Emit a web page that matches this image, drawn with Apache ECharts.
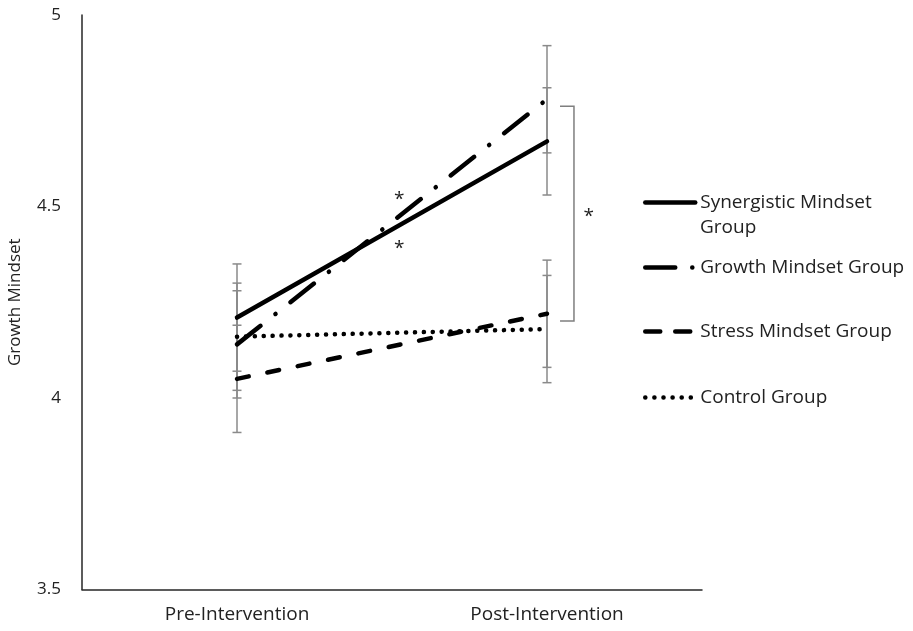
<!DOCTYPE html>
<html>
<head>
<meta charset="utf-8">
<script src="https://cdn.jsdelivr.net/npm/echarts@6/dist/echarts.min.js"></script>
<style>html,body{margin:0;padding:0;background:#fff;}#c{width:913px;height:631px;}</style>
</head>
<body>
<div id="c"></div>
<script>
// ---- data ----
const categories = ['Pre-Intervention', 'Post-Intervention'];
const seriesNames = ['Synergistic Mindset Group', 'Growth Mindset Group', 'Stress Mindset Group', 'Control Group'];
const synergistic = [4.21, 4.67];
const growth = [4.14, 4.78];
const stress = [4.05, 4.22];
const control = [4.16, 4.18];
const errSynergistic = [0.14, 0.14];
const errGrowth = [0.14, 0.14];
const errStress = [0.14, 0.14];
const errControl = [0.14, 0.14];
const yMin = 3.5, yMax = 5, yStep = 0.5;
const yAxisTitle = 'Growth Mindset';
// annotations (in data units; x on a helper value axis where categories sit at 0 and 1)
const bracketX = [1.042, 1.087];
const bracketY = [4.201, 4.762];
const starPoints = [[0.523, 4.517], [0.523, 4.389], [1.135, 4.473]];

// ---- build ----
const values = [synergistic, growth, stress, control];
const errs = [errSynergistic, errGrowth, errStress, errControl];
const errData = [];
values.forEach((vals, s) => vals.forEach((v, i) => errData.push([i, v - errs[s][i], v + errs[s][i]])));

const FONT = 'Open Sans';
const dashTypes = ['solid', [30, 19, 0.1, 19], [12, 19], [0.1, 8.8]];
const lineStyles = dashTypes.map(t => ({ color: '#000', width: 4.5, type: t, cap: 'round' }));
const legendTops = [193, 258, 322, 388];
const legendDash = ['solid', [30, 17, 0.1, 17], [15, 15], [0.1, 9]];

const chart = echarts.init(document.getElementById('c'), null, { renderer: 'canvas' });
const option = {
  animation: false,
  backgroundColor: '#fff',
  grid: { left: 82, right: 211, top: 15, bottom: 41.5, containLabel: false, outerBoundsMode: 'none' },
  xAxis: [{
    type: 'category', data: categories, boundaryGap: true,
    axisLine: { lineStyle: { color: '#262626', width: 1.5 } },
    axisTick: { show: false },
    axisLabel: { fontFamily: FONT, fontSize: 19, color: '#222', margin: 16 }
  }, {
    type: 'value', min: -0.5, max: 1.5, show: false
  }],
  yAxis: {
    type: 'value', min: yMin, max: yMax, interval: yStep,
    name: yAxisTitle, nameLocation: 'middle', nameGap: 58,
    nameTextStyle: { fontFamily: FONT, fontSize: 17, color: '#222' },
    axisLine: { show: true, onZero: false, lineStyle: { color: '#262626', width: 1.5 } },
    axisTick: { show: false },
    splitLine: { show: false },
    axisLabel: { fontFamily: FONT, fontSize: 17, color: '#222', margin: 21 }
  },
  legend: seriesNames.map((n, i) => ({
    data: [n], left: 643, top: legendTops[i], padding: 0, orient: 'vertical',
    itemWidth: 50, itemHeight: 14, selectedMode: false,
    itemStyle: { opacity: 0, borderWidth: 0 },
    lineStyle: { color: '#000', width: 4.5, type: legendDash[i], cap: 'round' },
    textStyle: { fontFamily: FONT, fontSize: 19, color: '#222' },
    formatter: i === 0 ? 'Synergistic Mindset' : '{name}'
  })),
  graphic: [{
    type: 'text', left: 700, top: 218,
    style: { text: 'Group', fontFamily: FONT, fontSize: 19, fill: '#222' }
  }],
  series: [
    {
      type: 'custom', name: 'err', xAxisIndex: 0, z: 1, silent: true,
      data: errData,
      renderItem: function (params, api) {
        const x = api.value(0);
        const lo = api.coord([x, api.value(1)]);
        const hi = api.coord([x, api.value(2)]);
        const h = 4.5;
        const st = { stroke: '#8a8a8a', lineWidth: 1.5 };
        return { type: 'group', children: [
          { type: 'line', shape: { x1: lo[0], y1: lo[1], x2: hi[0], y2: hi[1] }, style: st },
          { type: 'line', shape: { x1: lo[0] - h, y1: lo[1], x2: lo[0] + h, y2: lo[1] }, style: st },
          { type: 'line', shape: { x1: hi[0] - h, y1: hi[1], x2: hi[0] + h, y2: hi[1] }, style: st }
        ]};
      }
    },
    ...seriesNames.map((n, i) => ({
      type: 'line', name: n, data: values[i], symbol: 'none', showSymbol: false,
      z: 3, silent: true, lineStyle: lineStyles[i], itemStyle: { color: '#000' }
    })),
    {
      type: 'custom', name: 'bracket', xAxisIndex: 1, z: 2, silent: true,
      data: [[bracketX[0], bracketY[0], bracketX[1], bracketY[1]]],
      renderItem: function (params, api) {
        const a = api.coord([api.value(0), api.value(1)]);
        const b = api.coord([api.value(2), api.value(3)]);
        return { type: 'polyline', shape: { points: [[a[0], b[1]], [b[0], b[1]], [b[0], a[1]], [a[0], a[1]]] },
          style: { stroke: '#7f7f7f', lineWidth: 1.5, fill: null } };
      }
    },
    {
      type: 'custom', name: 'stars', xAxisIndex: 1, z: 4, silent: true,
      data: starPoints,
      renderItem: function (params, api) {
        const p = api.coord([api.value(0), api.value(1)]);
        return { type: 'text', x: p[0], y: p[1],
          style: { text: '*', fontFamily: FONT, fontSize: 19, fill: '#222', align: 'center', verticalAlign: 'middle' } };
      }
    }
  ]
};
chart.setOption(option);
</script>
</body>
</html>
